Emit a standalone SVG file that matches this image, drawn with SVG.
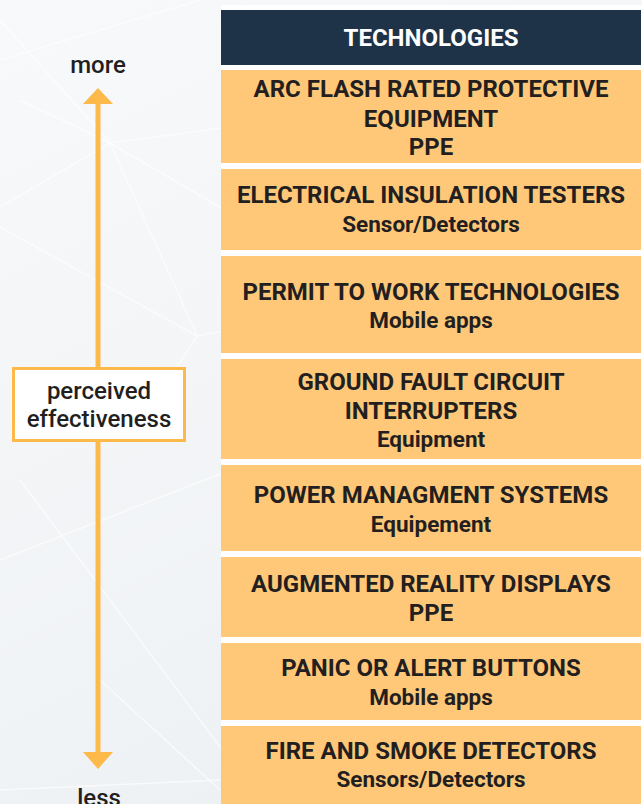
<svg xmlns="http://www.w3.org/2000/svg" width="642" height="804" viewBox="0 0 642 804">
<defs>
<linearGradient id="bg" x1="0" y1="0" x2="0.4" y2="1">
<stop offset="0" stop-color="#f8f9fa"/>
<stop offset="1" stop-color="#eef1f4"/>
</linearGradient>
</defs>
<style>
.bgl{stroke:#ffffff;stroke-width:1.5;opacity:0.6;fill:none}
.box{fill:#fec878}
.t{font-family:Roboto,"Liberation Sans",sans-serif;font-weight:700;font-size:24px;fill:#231f20;text-anchor:middle}
.s{font-family:Roboto,"Liberation Sans",sans-serif;font-weight:700;font-size:22.5px;fill:#231f20;text-anchor:middle}
.hd{font-family:Roboto,"Liberation Sans",sans-serif;font-weight:700;font-size:24px;fill:#ffffff;text-anchor:middle}
.lbl{font-family:Roboto,"Liberation Sans",sans-serif;font-weight:500;font-size:24px;fill:#231f20;text-anchor:middle}
.ax{stroke:#fdb94a;stroke-width:5;fill:none}
.ah{fill:#fdb94a}
</style>
<rect x="0" y="0" width="642" height="804" fill="url(#bg)"/>
<g id="background-lines">
<line class="bgl" x1="20" y1="100" x2="110" y2="143"/>
<line class="bgl" x1="0" y1="207" x2="110" y2="143"/>
<line class="bgl" x1="110" y1="143" x2="230" y2="127"/>
<line class="bgl" x1="110" y1="143" x2="230" y2="213"/>
<line class="bgl" x1="110" y1="143" x2="197" y2="335"/>
<line class="bgl" x1="0" y1="227" x2="197" y2="336"/>
<line class="bgl" x1="197" y1="336" x2="230" y2="330"/>
<line class="bgl" x1="0" y1="20" x2="110" y2="143"/>
<line class="bgl" x1="0" y1="60" x2="200" y2="0"/>
<line class="bgl" x1="197" y1="336" x2="130" y2="440"/>
<line class="bgl" x1="0" y1="560" x2="230" y2="470"/>
<line class="bgl" x1="20" y1="480" x2="230" y2="760"/>
<line class="bgl" x1="100" y1="680" x2="220" y2="790"/>
<line class="bgl" x1="0" y1="790" x2="220" y2="780"/>
</g>
<rect x="221" y="5" width="421" height="799" fill="#ffffff"/>
<g id="connectors">
<line class="ax" x1="98" y1="102" x2="98" y2="754"/>
<polygon class="ah" points="98,88 113,104 83,104"/>
<polygon class="ah" points="98,769 113,752 83,752"/>
</g>
<g id="label-more"><text class="lbl" x="98" y="73">more</text></g>
<g id="label-less"><text class="lbl" x="99" y="806">less</text></g>
<g id="label-perceived">
<rect x="13.5" y="368.5" width="171" height="72" fill="#ffffff" stroke="#fdb94a" stroke-width="3"/>
<text class="lbl" x="99" y="399">perceived</text>
<text class="lbl" x="99" y="427">effectiveness</text>
</g>
<g id="header">
<rect x="221" y="10" width="420" height="55" fill="#1e3248"/>
<text class="hd" x="431" y="46">TECHNOLOGIES</text>
</g>
<g id="n1">
<rect class="box" x="221" y="70" width="420" height="93"/>
<text class="t" x="431" y="97">ARC FLASH RATED PROTECTIVE</text>
<text class="t" x="431" y="127">EQUIPMENT</text>
<text class="t" x="431" y="155">PPE</text>
</g>
<g id="n2">
<rect class="box" x="221" y="169" width="420" height="81"/>
<text class="t" x="431" y="203">ELECTRICAL INSULATION TESTERS</text>
<text class="s" x="431" y="232">Sensor/Detectors</text>
</g>
<g id="n3">
<rect class="box" x="221" y="256" width="420" height="97"/>
<text class="t" x="431" y="300">PERMIT TO WORK TECHNOLOGIES</text>
<text class="s" x="431" y="328">Mobile apps</text>
</g>
<g id="n4">
<rect class="box" x="221" y="359" width="420" height="100"/>
<text class="t" x="431" y="390">GROUND FAULT CIRCUIT</text>
<text class="t" x="431" y="419">INTERRUPTERS</text>
<text class="s" x="431" y="447">Equipment</text>
</g>
<g id="n5">
<rect class="box" x="221" y="465" width="420" height="86"/>
<text class="t" x="431" y="503">POWER MANAGMENT SYSTEMS</text>
<text class="s" x="431" y="532">Equipement</text>
</g>
<g id="n6">
<rect class="box" x="221" y="557" width="420" height="80"/>
<text class="t" x="431" y="592">AUGMENTED REALITY DISPLAYS</text>
<text class="t" x="431" y="621">PPE</text>
</g>
<g id="n7">
<rect class="box" x="221" y="643" width="420" height="77"/>
<text class="t" x="431" y="676">PANIC OR ALERT BUTTONS</text>
<text class="s" x="431" y="705">Mobile apps</text>
</g>
<g id="n8">
<rect class="box" x="221" y="726" width="420" height="78"/>
<text class="t" x="431" y="759">FIRE AND SMOKE DETECTORS</text>
<text class="s" x="431" y="787">Sensors/Detectors</text>
</g>
</svg>
